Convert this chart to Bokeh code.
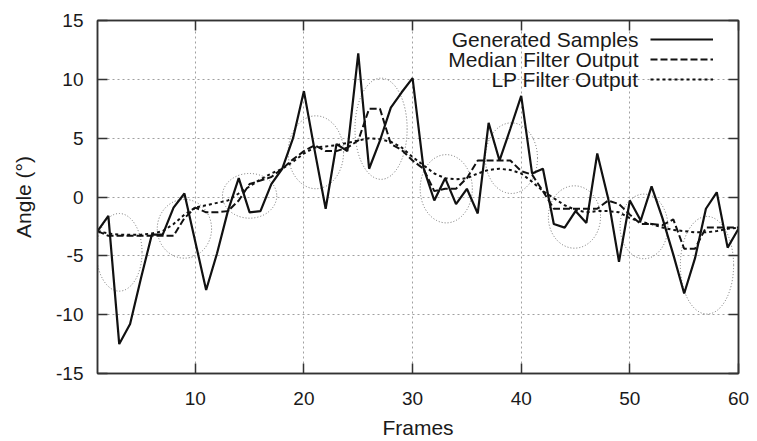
from bokeh.plotting import figure
from bokeh.models import (Range1d, FixedTicker, LinearAxis, Legend, LegendItem,
                          Label, CustomJSTickFormatter)
from bokeh.core.properties import value
from bokeh.embed import file_html
from bokeh.resources import INLINE

frames = list(range(1, 61))

generated = [-2.9, -1.6, -12.5, -10.8, -6.9, -3.2, -3.2, -0.9, 0.3, -3.8,
             -7.9, -4.8, -1.2, 1.6, -1.3, -1.2, 1.1, 2.4, 5.0, 9.0,
             3.9, -1.0, 4.5, 3.9, 12.2, 2.4, 4.8, 7.6, 8.9, 10.1,
             2.5, -0.3, 1.6, -0.6, 0.7, -1.4, 6.3, 3.1, 5.8, 8.6,
             2.0, 2.4, -2.3, -2.6, -1.2, -2.2, 3.7, -0.1, -5.5, -0.3,
             -2.0, 0.9, -1.8, -4.9, -8.2, -5.2, -1.0, 0.4, -4.3, -2.7]

median_out = [-2.9, -3.3, -3.3, -3.3, -3.3, -3.3, -3.3, -3.3, -1.8, -0.9,
              -1.3, -1.3, -1.2, -0.3, 1.1, 1.4, 1.7, 2.4, 3.2, 3.9,
              4.4, 3.9, 3.9, 4.2, 4.8, 7.5, 7.5, 4.5, 4.0, 3.1,
              2.4, 0.5, 0.7, 0.7, 1.6, 3.1, 3.1, 3.1, 3.1, 2.2,
              1.9, 0.5, -1.0, -1.0, -1.0, -1.0, -1.0, -0.3, -0.6, -1.5,
              -2.3, -2.3, -2.4, -1.9, -4.4, -4.4, -2.6, -2.6, -2.6, -2.6]

lp_out = [-2.9, -3.1, -3.2, -3.2, -3.2, -3.1, -2.9, -2.3, -1.5, -0.9,
          -0.7, -0.5, -0.3, 0.3, 0.9, 1.5, 2.0, 2.4, 3.0, 3.7,
          4.2, 4.3, 4.4, 4.6, 4.8, 5.0, 4.9, 4.7, 4.2, 3.4,
          2.7, 2.0, 1.6, 1.5, 1.6, 2.0, 2.3, 2.4, 2.3, 2.0,
          1.3, 0.5, -0.1, -0.7, -1.1, -1.3, -1.2, -1.2, -1.3, -1.8,
          -2.1, -2.3, -2.6, -2.8, -2.9, -3.0, -3.0, -2.9, -2.7, -2.6]

# dotted ellipses marking regions (centre frame, centre angle, width in frames, height in degrees)
ell_x = [3.0, 9.0, 15.0, 21.1, 27.1, 33.1, 39.1, 44.9, 51.3, 57.1]
ell_y = [-4.7, -2.7, 0.1, 3.8, 5.8, 0.7, 3.3, -1.7, -2.5, -5.8]
ell_w = [4.2, 5.0, 5.0, 5.1, 4.8, 4.8, 4.8, 4.8, 4.4, 4.9]
ell_h = [6.6, 5.0, 3.8, 6.2, 8.6, 5.8, 6.0, 5.3, 5.5, 8.3]

x_ticks = [10, 20, 30, 40, 50, 60]
x_tick_labels = ["10", "20", "30", "40", "50", "60"]
y_ticks = [-15, -10, -5, 0, 5, 10, 15]
y_tick_labels = ["-15", "-10", "-5", "0", "5", "10", "15"]

series_names = ["Generated Samples", "Median Filter Output", "LP Filter Output"]

FONT = "Liberation Sans"
TXT = "#1a1a1a"
AX = "#333333"

p = figure(width=749, height=441, x_range=Range1d(1, 60), y_range=Range1d(-15, 15),
           output_backend="svg", toolbar_location=None,
           min_border_left=97, min_border_right=11, min_border_top=20, min_border_bottom=61)
p.outline_line_color = AX
p.outline_line_width = 1.5
p.background_fill_color = "white"

p.ellipse(x=ell_x, y=ell_y, width=ell_w, height=ell_h, fill_color=None,
          line_color="#707070", line_width=1, line_dash="1 2")

r_gen = p.line(frames, generated, line_color="#111111", line_width=2.2)
r_med = p.line(frames, median_out, line_color="#111111", line_width=2, line_dash="7 3")
r_lp = p.line(frames, lp_out, line_color="#111111", line_width=2, line_dash="3 3")

# axes
for ax in (p.xaxis[0], p.yaxis[0]):
    ax.major_tick_in = 10
    ax.major_tick_out = 0
    ax.minor_tick_line_color = None
    ax.axis_line_color = AX
    ax.axis_line_width = 1.5
    ax.major_tick_line_color = AX
    ax.major_tick_line_width = 1.5
    ax.major_label_text_font = FONT
    ax.major_label_text_font_size = "19px"
    ax.major_label_text_color = TXT
    ax.axis_label_text_font = FONT
    ax.axis_label_text_font_size = "21px"
    ax.axis_label_text_font_style = "normal"
    ax.axis_label_text_color = TXT

p.xaxis.ticker = FixedTicker(ticks=x_ticks)
p.xaxis.major_label_overrides = dict(zip(x_ticks, x_tick_labels))
p.xaxis.axis_label = "Frames"
p.xaxis.major_label_standoff = 18
p.xaxis.axis_label_standoff = 8

p.yaxis.ticker = FixedTicker(ticks=y_ticks)
p.yaxis.major_label_overrides = dict(zip(y_ticks, y_tick_labels))
p.yaxis.axis_label = "Angle (°)"
p.yaxis.major_label_standoff = 14
p.yaxis.axis_label_standoff = 18

top_ax = LinearAxis(ticker=FixedTicker(ticks=x_ticks), formatter=CustomJSTickFormatter(code="return ''"),
                    major_tick_in=10, major_tick_out=0, minor_tick_line_color=None,
                    axis_line_color=AX, axis_line_width=1.5, major_tick_line_color=AX,
                    major_tick_line_width=1.5, major_label_standoff=0)
right_ax = LinearAxis(ticker=FixedTicker(ticks=y_ticks), formatter=CustomJSTickFormatter(code="return ''"),
                      major_tick_in=10, major_tick_out=0, minor_tick_line_color=None,
                      axis_line_color=AX, axis_line_width=1.5, major_tick_line_color=AX,
                      major_tick_line_width=1.5, major_label_standoff=0)
p.add_layout(top_ax, "above")
p.add_layout(right_ax, "right")

# grid
p.xgrid.ticker = FixedTicker(ticks=x_ticks[:-1])
p.ygrid.ticker = FixedTicker(ticks=y_ticks[1:-1])
for g in (p.xgrid[0], p.ygrid[0]):
    g.grid_line_color = "#a0a0a0"
    g.grid_line_dash = "2 3"
    g.grid_line_width = 1

# legend: glyph samples on the right, right-aligned text to their left
legend = Legend(items=[LegendItem(label=value(""), renderers=[r]) for r in (r_gen, r_med, r_lp)],
                location=(553, 284), padding=0, spacing=0, margin=0,
                glyph_width=63, glyph_height=20, label_width=0, label_height=20,
                label_standoff=0, label_text_font_size="1px",
                border_line_alpha=0, background_fill_alpha=0)
p.add_layout(legend, "center")

for i, name in enumerate(series_names):
    p.add_layout(Label(x=541, y=334 - 20 * i, x_units="screen", y_units="screen",
                       text=name, text_align="right", text_baseline="middle",
                       text_font=FONT, text_font_size="21px", text_color=TXT))

open("out.html", "w").write(file_html(p, INLINE))
